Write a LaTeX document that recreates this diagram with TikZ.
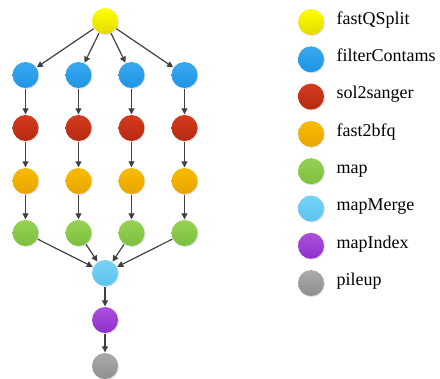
\documentclass[tikz,border=0pt]{standalone}
\usepackage{fontspec}
\setmainfont{Liberation Serif}
\usetikzlibrary{shadows,arrows.meta}
\definecolor{yA}{HTML}{FFFF00}\definecolor{yB}{HTML}{E4DA00}
\definecolor{bA}{HTML}{3AA8EE}\definecolor{bB}{HTML}{1E95E5}
\definecolor{rA}{HTML}{D63B1E}\definecolor{rB}{HTML}{B52A12}
\definecolor{oA}{HTML}{F9BC00}\definecolor{oB}{HTML}{E6A500}
\definecolor{gA}{HTML}{96D253}\definecolor{gB}{HTML}{7CBF3E}
\definecolor{lA}{HTML}{78D2F6}\definecolor{lB}{HTML}{5CC3EF}
\definecolor{pA}{HTML}{AC50DE}\definecolor{pB}{HTML}{8E30CB}
\definecolor{kA}{HTML}{AAAAAA}\definecolor{kB}{HTML}{8F8F8F}
\definecolor{edgecol}{HTML}{404040}
\tikzset{
  ball/.style 2 args={circle,minimum size=26pt,inner sep=0pt,top color=#1,bottom color=#2,
    drop shadow={shadow xshift=1pt,shadow yshift=-1pt,opacity=0.25,fill=gray}},
  cY/.style={ball={yA}{yB}},
  cB/.style={ball={bA}{bB}},
  cR/.style={ball={rA}{rB}},
  cO/.style={ball={oA}{oB}},
  cG/.style={ball={gA}{gB}},
  cL/.style={ball={lA}{lB}},
  cP/.style={ball={pA}{pB}},
  cK/.style={ball={kA}{kB}},
  edge/.style={draw=edgecol,line width=1.2pt,-{Triangle[length=6pt,width=6pt]},shorten >=0.5pt,shorten <=0.5pt},
  lbl/.style={anchor=mid west,inner sep=0pt,font=\fontsize{18}{20}\selectfont}
}
\begin{document}
\begin{tikzpicture}[x=1pt,y=-1pt]
\useasboundingbox (0,0) rectangle (440,379);
\node[cY] (top) at (105,21) {};
\foreach \i/\x in {1/25.5,2/78.5,3/131.5,4/184.5}{
  \node[cB] (b\i) at (\x,75) {};
  \node[cR] (r\i) at (\x,128) {};
  \node[cO] (o\i) at (\x,181) {};
  \node[cG] (g\i) at (\x,233) {};
}
\node[cL] (merge) at (105,273) {};
\node[cP] (index) at (105,320) {};
\node[cK] (pile) at (105,366) {};
\foreach \i in {1,2,3,4}{
  \draw[edge] (top) -- (b\i);
  \draw[edge] (b\i) -- (r\i);
  \draw[edge] (r\i) -- (o\i);
  \draw[edge] (o\i) -- (g\i);
  \draw[edge] (g\i) -- (merge);
}
\draw[edge] (merge) -- (index);
\draw[edge] (index) -- (pile);
% legend
\foreach \s/\t [count=\k from 0] in {cY/fastQSplit,cB/filterContams,cR/sol2sanger,cO/fast2bfq,cG/map,cL/mapMerge,cP/mapIndex,cK/pileup}{
  \node[\s] (lg\k) at (311,22+37.3*\k) {};
  \node[lbl] (lt\k) at (336.5,22+37.3*\k) {\t};
}
\end{tikzpicture}
\end{document}
